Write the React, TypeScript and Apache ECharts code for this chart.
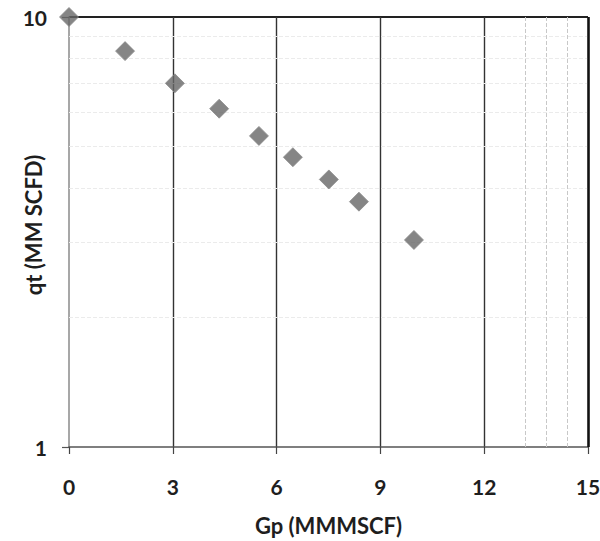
import React, { useEffect, useRef } from "react";
import * as echarts from "echarts";

// Data
const gpValues = [0, 1.62, 3.06, 4.34, 5.49, 6.47, 7.51, 8.38, 9.97];
const qtValues = [10, 8.33, 7.01, 6.12, 5.29, 4.72, 4.19, 3.72, 3.03];
const minorYGrid = [2, 3, 4, 5, 6, 7, 8, 9];
const faintXGrid = [13.2, 13.8, 14.4];
const xTitle = "Gp (MMMSCF)";
const yTitle = "qt (MM SCFD)";

const FONT = "Lato, 'Open Sans', sans-serif";

export default function App() {
  const ref = useRef<HTMLDivElement>(null);

  useEffect(() => {
    if (!ref.current) return;
    const chart = echarts.init(ref.current, undefined, { renderer: "svg" });
    const points = gpValues.map((g, i) => [g, qtValues[i]]);
    chart.setOption({
      animation: false,
      backgroundColor: "#ffffff",
      grid: { left: 69, right: 12, top: 17, bottom: 94, containLabel: false, outerBoundsMode: "none" },
      xAxis: {
        type: "value",
        min: 0,
        max: 15,
        interval: 3,
        name: xTitle,
        nameLocation: "middle",
        nameGap: 67,
        nameMoveOverlap: false,
        nameTextStyle: { fontFamily: FONT, fontWeight: "bold", fontSize: 22, color: "#1e1e1e" },
        axisLine: { show: true, lineStyle: { color: "#555", width: 1.5 } },
        axisTick: { show: true, inside: false, length: 7, lineStyle: { color: "#444", width: 1.2 } },
        axisLabel: { margin: 29, fontFamily: FONT, fontWeight: "bold", fontSize: 21, color: "#1e1e1e" },
        splitLine: {
          show: true,
          showMinLine: false,
          lineStyle: { color: "#333", width: 1.4 },
        },
      },
      yAxis: {
        type: "log",
        logBase: 10,
        min: 1,
        max: 10,
        name: yTitle,
        nameLocation: "middle",
        nameGap: 25,
        nameMoveOverlap: false,
        nameTextStyle: {
          fontFamily: FONT,
          fontWeight: "bold",
          fontSize: 22,
          color: "#1e1e1e",
          padding: [0, 0, 0, 14],
        },
        axisLine: { show: true, lineStyle: { color: "#8a8a8a", width: 1.5 } },
        axisTick: { show: true, inside: false, length: 7, lineStyle: { color: "#555", width: 1.2 } },
        axisLabel: { margin: 22, fontFamily: FONT, fontWeight: "bold", fontSize: 21, color: "#1e1e1e" },
        splitLine: {
          show: true,
          showMinLine: false,
          lineStyle: { color: "#222", width: 2 },
        },
      },
      series: [
        {
          type: "scatter",
          data: points,
          symbol: "diamond",
          symbolSize: 19,
          itemStyle: { color: "#676767", borderColor: "#8c8c8c", borderWidth: 1 },
          z: 5,
          markLine: {
            silent: true,
            symbol: "none",
            label: { show: false },
            lineStyle: { color: "#ebebeb", type: "dashed", width: 1 },
            data: [
              ...minorYGrid.map((v) => ({ yAxis: v })),
              ...faintXGrid.map((v) => ({ xAxis: v, lineStyle: { color: "#c8c8c8", type: "dashed", width: 1 } })),
            ],
          },
        },
        {
          type: "line",
          data: [],
          markLine: {
            silent: true,
            symbol: "none",
            label: { show: false },
            lineStyle: { color: "#111", type: "solid", width: 2.5 },
            data: [{ xAxis: 15 }],
          },
        },
      ],
    });
    return () => chart.dispose();
  }, []);

  return (
    <div
      ref={ref}
      style={{ position: "fixed", left: 0, top: 0, width: 600, height: 541, background: "#fff" }}
    />
  );
}
